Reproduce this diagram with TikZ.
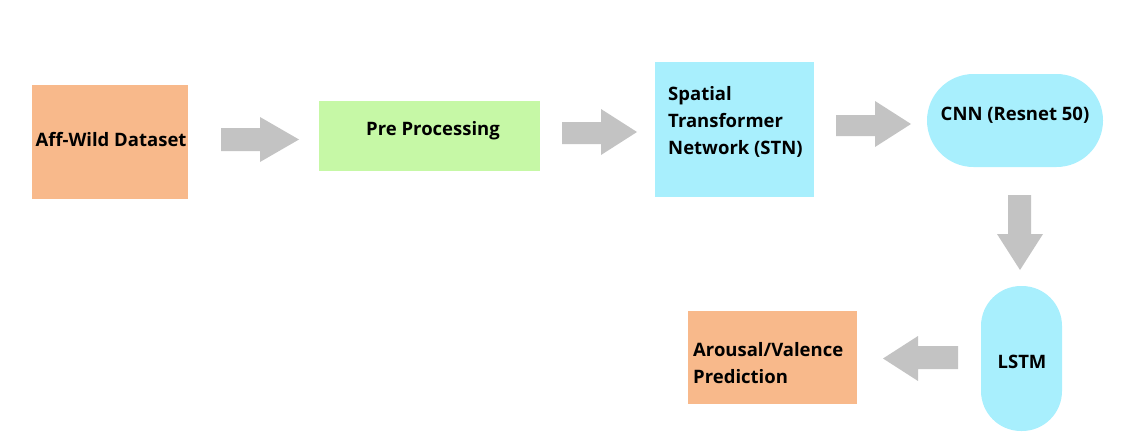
\documentclass[tikz,border=0pt]{standalone}
\usepackage{fontspec}
\setmainfont{Open Sans}
\begin{document}
\begin{tikzpicture}[x=1pt,y=-1pt,
  lbl/.style={font=\fontsize{18.5}{27}\selectfont\bfseries, text=black, inner sep=0pt},
  box/.style={draw=none, inner sep=0pt},
  blk/.style={fill=arrowgray, draw=none}]
\definecolor{boxorange}{HTML}{F8B98B}
\definecolor{boxgreen}{HTML}{C6F8A6}
\definecolor{boxcyan}{HTML}{A8EFFD}
\definecolor{arrowgray}{HTML}{C3C3C3}
\useasboundingbox (0,0) rectangle (1142,447);
% boxes
\fill[boxorange] (32,85) rectangle (188,199);
\node[box] (aff) at (110,142) {};
\node[lbl] (afft) at (111,140) {Aff-Wild Dataset};
\fill[boxgreen] (319,101) rectangle (540,171);
\node[box] (pre) at (430,136) {};
\node[lbl] (pret) at (433,131) {Pre Processing};
\fill[boxcyan] (655,62) rectangle (814,197);
\node[box] (stn) at (734,130) {};
\node[lbl, anchor=west, align=left] (stnt) at (668,122) {Spatial\\Transformer\\Network (STN)};
\fill[boxcyan, rounded corners=46.5] (927,74) rectangle (1103,167);
\node[box] (cnn) at (1015,120) {};
\node[lbl] (cnnt) at (1015,115) {CNN (Resnet 50)};
\fill[boxcyan, rounded corners=40] (981,286) rectangle (1062,431);
\node[box] (lstm) at (1021,358) {};
\node[lbl] (lstmt) at (1022,362) {LSTM};
\fill[boxorange] (688,311) rectangle (857,404);
\node[box] (av) at (772,358) {};
\node[lbl, anchor=west, align=left] (avt) at (693,363) {Arousal/Valence\\Prediction};
% block arrows
\fill[blk] (221,128) -- (260,128) -- (260,117) -- (299,139.5) -- (260,162) -- (260,151) -- (221,151) -- cycle;
\fill[blk] (562,122) -- (601,122) -- (601,109) -- (637,132) -- (601,155) -- (601,144) -- (562,144) -- cycle;
\fill[blk] (836,115) -- (875,115) -- (875,101) -- (911,124) -- (875,147) -- (875,136) -- (836,136) -- cycle;
\fill[blk] (1008,195) -- (1031,195) -- (1031,234) -- (1043,234) -- (1020,270) -- (997,234) -- (1008,234) -- cycle;
\fill[blk] (958,346) -- (918,346) -- (918,336) -- (883,358.5) -- (918,381) -- (918,369) -- (958,369) -- cycle;
\end{tikzpicture}
\end{document}
